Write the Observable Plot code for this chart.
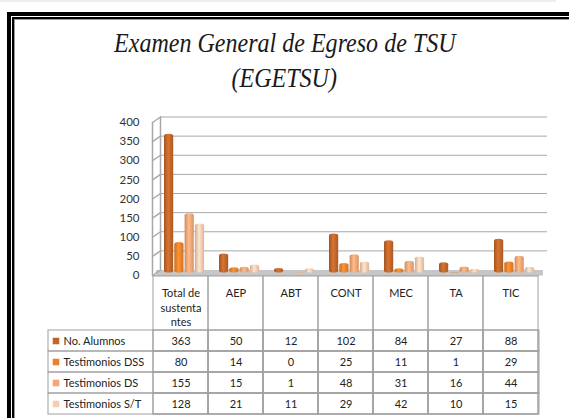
<!DOCTYPE html>
<html><head><meta charset="utf-8">
<script src="https://cdn.jsdelivr.net/npm/d3@7"></script>
<script src="https://cdn.jsdelivr.net/npm/@observablehq/plot@0.6"></script>
<style>
html,body{margin:0;padding:0;background:#fff;}
#page{position:relative;width:569px;height:418px;overflow:hidden;background:#fff;}
#topline{position:absolute;left:0;top:0;width:556px;height:2px;background:#eeeeee;}
#frame{position:absolute;left:7px;top:12px;width:700px;height:600px;border:4px solid #000;}
#frame2{position:absolute;left:1px;top:1px;right:1px;bottom:1px;border:2px solid #000;}
#frame3{position:absolute;left:0;top:0;right:0;bottom:0;border:1px solid #9a9a9a;}
#title{position:absolute;left:0;width:569px;top:26px;text-align:center;font-family:"Liberation Serif","DejaVu Serif","Times New Roman",serif;font-style:italic;font-size:27px;line-height:35px;color:#1a1a1a;}
#title span{display:inline-block;transform:scaleX(0.89);transform-origin:center;}
#chart{position:absolute;left:0;top:100px;}
#table{position:absolute;left:0;top:276px;}
</style></head>
<body>
<div id="page">
  <div id="topline"></div>
  <div id="frame"><div id="frame2"><div id="frame3"></div></div></div>
  <div id="title"><span>Examen General de Egreso de TSU</span><br><span>(EGETSU)</span></div>
  <div id="chart"></div>
  <div id="table"></div>
</div>
<script>
const categories = ["Total de sustentantes", "AEP", "ABT", "CONT", "MEC", "TA", "TIC"];
const headerLabels = ["Total de\nsustenta\nntes", "AEP", "ABT", "CONT", "MEC", "TA", "TIC"];
const seriesNames = ["No. Alumnos", "Testimonios DSS", "Testimonios DS", "Testimonios S/T"];
const noAlumnos = [363, 50, 12, 102, 84, 27, 88];
const testimoniosDSS = [80, 14, 0, 25, 11, 1, 29];
const testimoniosDS = [155, 15, 1, 48, 31, 16, 44];
const testimoniosST = [128, 21, 11, 29, 42, 10, 15];
const yTicks = [0, 50, 100, 150, 200, 250, 300, 350, 400];
const seriesColors = ["#C0662A", "#E9822D", "#F4A676", "#F8CBB2"];

const seriesValues = [noAlumnos, testimoniosDSS, testimoniosDS, testimoniosST];
const rows = seriesNames.flatMap((s, i) => categories.map((c, j) => ({series: s, cat: c, value: seriesValues[i][j], si: i})));

const W = 569, ML = 152, MR = 30;
const bw = (W - ML - MR) / categories.length;
const depthX = 8, depthY = -5.5;
const gridColor = "#a8a8a8";
const barW = 9.5, barPitch = 10.3, barStart = 11;
const chartH = 180, chartMT = 22, chartMB = 5;

const bars = seriesNames.map((s, i) => Plot.barY(rows.filter(r => r.si === i), {
  x: "cat", y: "value", fill: `url(#cyl${i})`,
  insetLeft: barStart + i * barPitch,
  insetRight: bw - barStart - i * barPitch - barW,
  dy: -2.5, rx: barW / 2, ry: 2
}));

const chart = Plot.plot({
  width: W, height: chartH, marginLeft: ML, marginRight: MR, marginTop: chartMT, marginBottom: chartMB,
  style: {fontFamily: "Lato, sans-serif", fontSize: "11.5px", color: "#333", background: "transparent"},
  x: {type: "band", domain: categories, padding: 0, axis: null},
  y: {domain: [0, 400], axis: null},
  marks: [
    Plot.ruleY([0], {dx: depthX / 2, dy: depthY / 2, stroke: "#c6c6c6", strokeWidth: 5.5}),
    Plot.ruleY([0], {stroke: "#b0b0b0"}),
    Plot.ruleY(yTicks.filter(v => v > 0), {dx: depthX, dy: depthY, stroke: gridColor}),
    Plot.vector(yTicks, {y: d => d, frameAnchor: "left", length: Math.hypot(depthX, depthY),
      rotate: Math.atan2(depthX, -depthY) * 180 / Math.PI, anchor: "start", r: 0, stroke: gridColor}),
    Plot.vector([0], {y: d => d, frameAnchor: "left", length: chartH - chartMT - chartMB, rotate: 0, anchor: "start", r: 0, stroke: gridColor}),
    Plot.vector([0], {y: d => d, frameAnchor: "left", dx: depthX, dy: depthY, length: chartH - chartMT - chartMB, rotate: 0, anchor: "start", r: 0, stroke: gridColor}),
    ...bars,
    Plot.axisY(yTicks, {tickSize: 0, tickPadding: 13, label: null, fill: "#333"})
  ]
});
const defs = d3.select(chart).insert("defs", ":first-child");
seriesColors.forEach((c, i) => {
  const base = d3.color(c);
  const g = defs.append("linearGradient").attr("id", "cyl" + i)
    .attr("x1", "0").attr("x2", "1").attr("y1", "0").attr("y2", "0");
  g.append("stop").attr("offset", "0%").attr("stop-color", base.darker(0.5).formatHex());
  g.append("stop").attr("offset", "45%").attr("stop-color", base.brighter(0.35).formatHex());
  g.append("stop").attr("offset", "100%").attr("stop-color", base.darker(0.35).formatHex());
});
document.getElementById("chart").appendChild(chart);

const headH = 54, rowH = 21;
const table = Plot.plot({
  width: W, height: headH + rowH * seriesNames.length + 2, marginLeft: ML, marginRight: MR, marginTop: headH, marginBottom: 2,
  style: {fontFamily: "Lato, sans-serif", fontSize: "11px", color: "#222", background: "transparent"},
  x: {type: "band", domain: categories, padding: 0, axis: null},
  y: {type: "band", domain: seriesNames, padding: 0, axis: null},
  marks: [
    Plot.cell(seriesNames, {y: d => d, insetLeft: -(ML - 48), fill: "none", stroke: "#a0a0a0"}),
    Plot.cell(categories, {x: d => d, insetTop: -headH, fill: "none", stroke: "#a0a0a0"}),
    Plot.cell(rows, {x: "cat", y: "series", fill: "none", stroke: "#a0a0a0"}),
    Plot.text(categories, {x: d => d, text: (d, i) => headerLabels[i], frameAnchor: "top", dy: -headH + 10, lineAnchor: "top", lineHeight: 1.33}),
    Plot.text(rows, {x: "cat", y: "series", text: d => String(d.value)}),
    Plot.dot(seriesNames, {y: d => d, frameAnchor: "left", dx: -96.5, symbol: "square", r: 3.7, fill: (d, i) => seriesColors[i]}),
    Plot.text(seriesNames, {y: d => d, frameAnchor: "left", dx: -89, textAnchor: "start"})
  ]
});
document.getElementById("table").appendChild(table);
</script>
</body></html>
